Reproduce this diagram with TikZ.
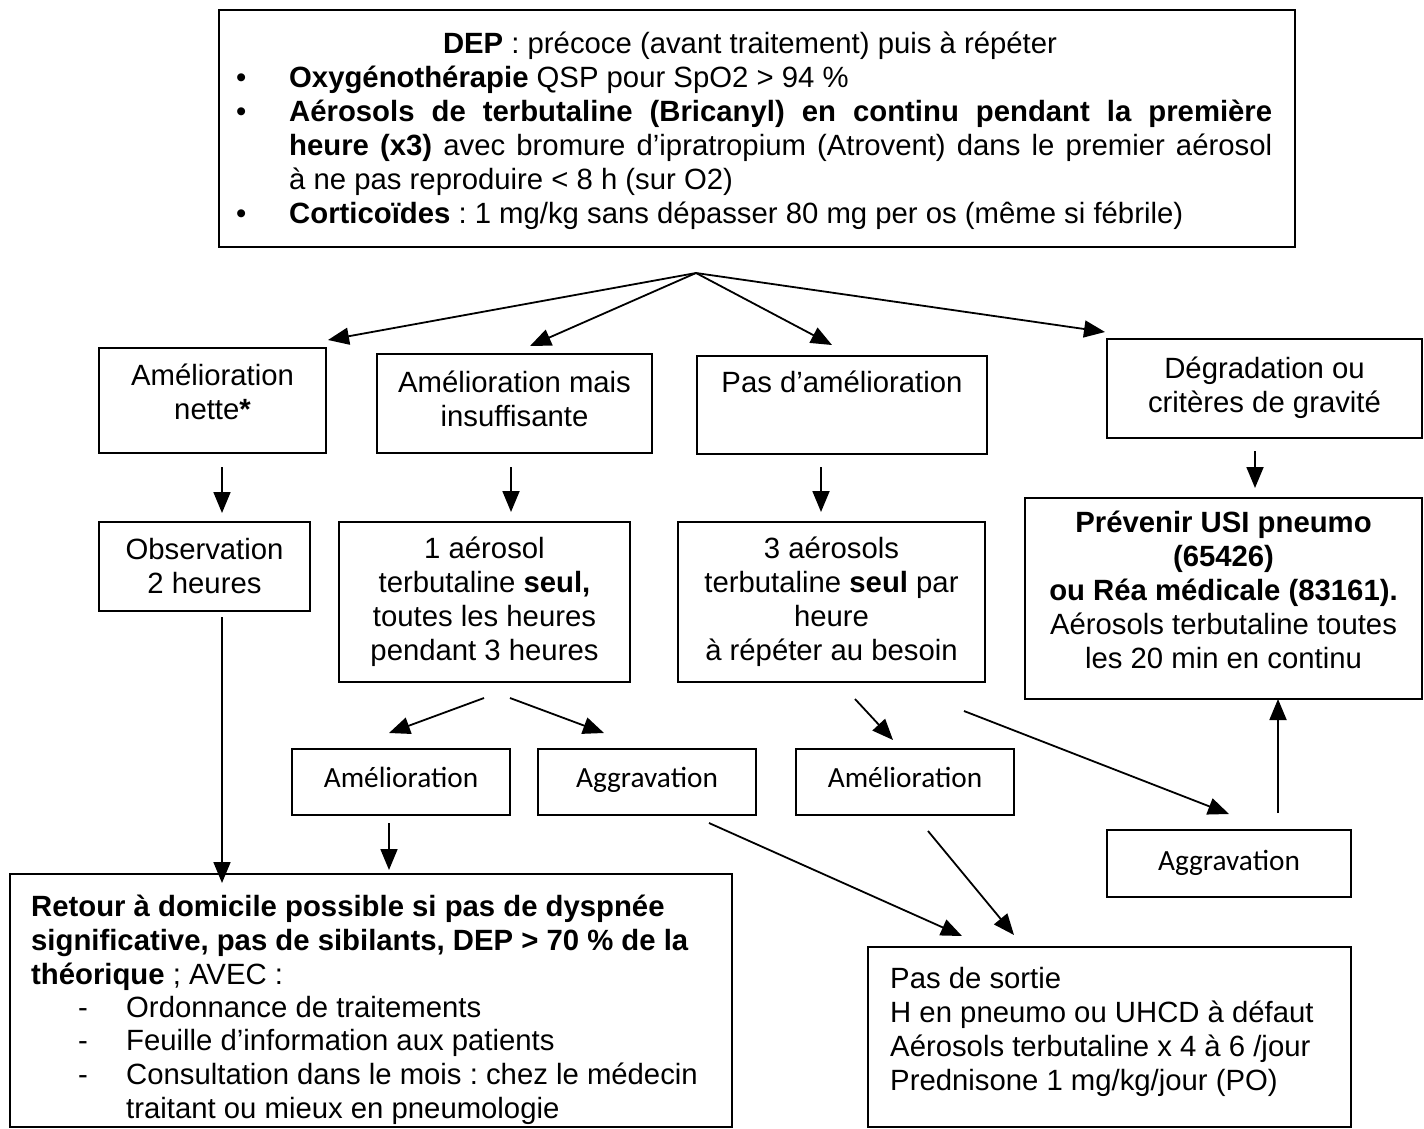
\documentclass[tikz,border=0pt]{standalone}
\usepackage{fontspec}
\setmainfont{Liberation Sans}
\newfontfamily\carlito{Carlito}
\usetikzlibrary{arrows.meta}
\frenchspacing
\tikzset{
  box/.style={draw, line width=2pt, inner sep=0pt},
  arr/.style={line width=1.8pt, -{Triangle[length=21pt,width=17pt]}},
  txt/.style={inner sep=0pt, font=\fontsize{29.3}{34}\selectfont, align=center},
  ltxt/.style={inner sep=0pt, font=\fontsize{29.3}{34}\selectfont, anchor=base west},
  ctxt/.style={inner sep=0pt, font=\carlito\fontsize{29.3}{34}\selectfont},
}
\begin{document}
\frenchspacing
\begin{tikzpicture}[x=1pt,y=-1pt]
\fill[white] (0,0) rectangle (1424,1128);
\useasboundingbox (0,0) rectangle (1424,1128);

% ---------- boxes ----------
\node[box, minimum width=1076pt, minimum height=237pt] (T) at (757,128.5) {};
\node[box, minimum width=227pt, minimum height=105pt] (A1) at (212.5,400.5) {};
\node[box, minimum width=275pt, minimum height=99pt] (A2) at (514.5,403.5) {};
\node[box, minimum width=290pt, minimum height=98pt] (A3) at (842,405) {};
\node[box, minimum width=315pt, minimum height=99pt] (A4) at (1264.5,388.5) {};
\node[box, minimum width=211pt, minimum height=89pt] (B1) at (204.5,566.5) {};
\node[box, minimum width=291pt, minimum height=160pt] (B2) at (484.5,602) {};
\node[box, minimum width=307pt, minimum height=160pt] (B3) at (831.5,602) {};
\node[box, minimum width=397pt, minimum height=201pt] (B4) at (1223.5,598.5) {};
\node[box, minimum width=218pt, minimum height=66pt] (C1) at (401,782) {};
\node[box, minimum width=218pt, minimum height=66pt] (C2) at (647,782) {};
\node[box, minimum width=218pt, minimum height=66pt] (C3) at (905,782) {};
\node[box, minimum width=244pt, minimum height=67pt] (C4) at (1229,863.5) {};
\node[box, minimum width=722pt, minimum height=253pt] (D1) at (371,1000.5) {};
\node[box, minimum width=483pt, minimum height=180pt] (P) at (1109.5,1037) {};

% ---------- top box text ----------
\node[txt, anchor=base] (t1) at (750,53) {\textbf{DEP} : précoce (avant traitement) puis à répéter};
\node[ltxt] (tb1) at (236,87) {•};
\node[ltxt] (t2) at (289,87) {\textbf{Oxygénothérapie} QSP pour SpO2 > 94 \%};
\node[ltxt] (tb2) at (236,121) {•};
\node[ltxt] (t3) at (289,121) {\makebox[983pt][s]{\textbf{Aérosols de terbutaline (Bricanyl) en continu pendant la première}}};
\node[ltxt] (t4) at (289,155) {\makebox[983pt][s]{\textbf{heure (x3)} avec bromure d’ipratropium (Atrovent) dans le premier aérosol}};
\node[ltxt] (t5) at (289,189) {à ne pas reproduire < 8 h (sur O2)};
\node[ltxt] (tb3) at (236,223) {•};
\node[ltxt] (t6) at (289,223) {\textbf{Corticoïdes} : 1 mg/kg sans dépasser 80 mg per os (même si fébrile)};

% ---------- centred texts ----------
\node[txt] (a1t) at (212.5,396) {\strut Amélioration\\ \strut nette\textbf{*}};
\node[txt] (a2t) at (514.5,403) {\strut Amélioration mais\\ \strut insuffisante};
\node[txt] (a3t) at (842,386) {\strut Pas d’amélioration};
\node[txt] (a4t) at (1264.5,388.5) {\strut Dégradation ou\\ \strut critères de gravité};
\node[txt] (b1t) at (204.5,569.5) {\strut Observation\\ \strut 2 heures};
\node[txt] (b2t) at (484.5,603) {\strut 1 aérosol\\ terbutaline \textbf{seul,}\\ toutes les heures\\ \strut pendant 3 heures};
\node[txt] (b3t) at (831.5,603) {\strut 3 aérosols\\ terbutaline \textbf{seul} par\\ heure\\ \strut à répéter au besoin};
\node[txt] (b4t) at (1223.5,594) {\strut\textbf{Prévenir USI pneumo}\\ \textbf{(65426)}\\ \textbf{ou Réa médicale (83161).}\\ Aérosols terbutaline toutes\\ \strut les 20 min en continu};
\node[ctxt] (c1t) at (401,781) {\strut Amélioration};
\node[ctxt] (c2t) at (647,781) {\strut Aggravation};
\node[ctxt] (c3t) at (905,781) {\strut Amélioration};
\node[ctxt] (c4t) at (1229,864) {\strut Aggravation};

% ---------- bottom-left box ----------
\node[ltxt] (d1) at (31,916) {\textbf{Retour à domicile possible si pas de dyspnée}};
\node[ltxt] (d2) at (31,950) {\textbf{significative, pas de sibilants, DEP > 70 \% de la}};
\node[ltxt] (d3) at (31,984) {\textbf{théorique} ; AVEC :};
\node[ltxt] (dd1) at (78,1017) {-};
\node[ltxt] (d4) at (126,1017) {Ordonnance de traitements};
\node[ltxt] (dd2) at (78,1050) {-};
\node[ltxt] (d5) at (126,1050) {Feuille d’information aux patients};
\node[ltxt] (dd3) at (78,1084) {-};
\node[ltxt] (d6) at (126,1084) {Consultation dans le mois : chez le médecin};
\node[ltxt] (d7) at (126,1118) {traitant ou mieux en pneumologie};

% ---------- bottom-right box ----------
\node[ltxt] (p1) at (890,988) {Pas de sortie};
\node[ltxt] (p2) at (890,1022) {H en pneumo ou UHCD à défaut};
\node[ltxt] (p3) at (890,1056) {Aérosols terbutaline x 4 à 6 /jour};
\node[ltxt] (p4) at (890,1090) {Prednisone 1 mg/kg/jour (PO)};

% ---------- connector end points ----------
\coordinate (apex) at (696,273);
\coordinate (eA1) at (328,340);
\coordinate (eA2) at (530,346);
\coordinate (eA3) at (832,345);
\coordinate (eA4) at (1105,332);
\coordinate (s1) at (222,467);  \coordinate (e1) at (222,513);
\coordinate (s2) at (511,467);  \coordinate (e2) at (511,512);
\coordinate (s3) at (821,467);  \coordinate (e3) at (821,512);
\coordinate (s4) at (1255,451); \coordinate (e4) at (1255,488);
\coordinate (sB2a) at (484,698); \coordinate (eB2a) at (389,733);
\coordinate (sB2b) at (510,698); \coordinate (eB2b) at (604,733);
\coordinate (sB3a) at (855,699); \coordinate (eB3a) at (893,740);
\coordinate (sB3b) at (964,711); \coordinate (eB3b) at (1229,814);
\coordinate (sC4) at (1278,813); \coordinate (eC4) at (1278,699);
\coordinate (sC1) at (389,823);  \coordinate (eC1) at (389,870);
\coordinate (sB1) at (222,617);  \coordinate (eB1) at (222,883);
\coordinate (sC2) at (709,823);  \coordinate (eC2) at (962,936);
\coordinate (sC3) at (928,831);  \coordinate (eC3) at (1014,935);

% ---------- connectors ----------
\draw[arr] (apex) -- (eA1);
\draw[arr] (apex) -- (eA2);
\draw[arr] (apex) -- (eA3);
\draw[arr] (apex) -- (eA4);
\draw[arr] (s1) -- (e1);
\draw[arr] (s2) -- (e2);
\draw[arr] (s3) -- (e3);
\draw[arr] (s4) -- (e4);
\draw[arr] (sB2a) -- (eB2a);
\draw[arr] (sB2b) -- (eB2b);
\draw[arr] (sB3a) -- (eB3a);
\draw[arr] (sB3b) -- (eB3b);
\draw[arr] (sC4) -- (eC4);
\draw[arr] (sC1) -- (eC1);
\draw[arr] (sB1) -- (eB1);
\draw[arr] (sC2) -- (eC2);
\draw[arr] (sC3) -- (eC3);
\end{tikzpicture}
\end{document}
